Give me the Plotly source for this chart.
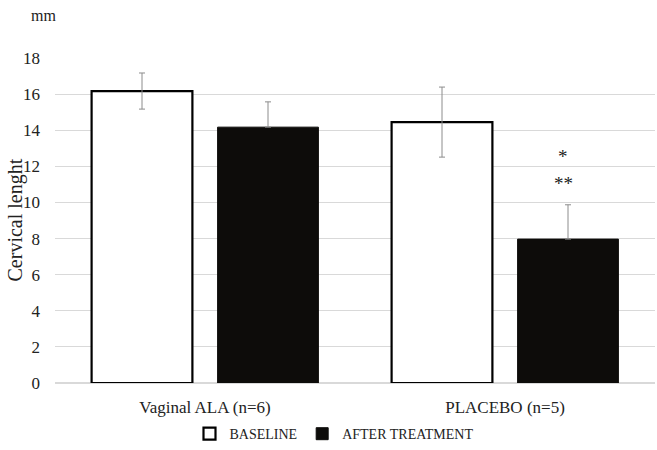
import plotly.graph_objects as go

categories = ["Vaginal ALA (n=6)", "PLACEBO (n=5)"]
baseline = [16.17, 14.45]
baseline_err = [1.0, 1.94]
after = [14.17, 7.97]
after_err = [1.4, 1.9]
after_err_minus = [0, 0]
y_ticks = [0, 2, 4, 6, 8, 10, 12, 14, 16, 18]
star_marks = ["*", "**"]
star_y = [12.57, 11.07]

FONT = "Liberation Serif, Times New Roman, serif"

fig = go.Figure()
fig.add_trace(go.Bar(
    name="BASELINE", x=categories, y=baseline,
    marker=dict(color="white", line=dict(color="black", width=2.2)),
    error_y=dict(type="data", array=baseline_err, color="#8c8c8c", thickness=1, width=3),
))
fig.add_trace(go.Bar(
    name="AFTER TREATMENT", x=categories, y=after,
    marker=dict(color="#0d0c0a", line=dict(color="#0d0c0a", width=1)),
    error_y=dict(type="data", array=after_err, arrayminus=after_err_minus,
                 symmetric=False, color="#8c8c8c", thickness=1, width=3),
))

for s, yv in zip(star_marks, star_y):
    fig.add_annotation(x=categories[1], y=yv, text=s, showarrow=False,
                       xshift=58, font=dict(family=FONT, size=19, color="#222"))

fig.add_annotation(xref="paper", yref="paper", x=-0.02, y=1.0, yshift=43,
                   yanchor="middle", text="mm", showarrow=False, xanchor="center",
                   font=dict(family=FONT, size=16, color="#222"))

fig.add_annotation(xref="paper", yref="paper", x=0, xshift=-40, y=0.5,
                   xanchor="center", yanchor="middle", textangle=-90,
                   text="Cervical lenght", showarrow=False,
                   font=dict(family=FONT, size=20, color="#222"))

fig.update_layout(
    width=657, height=450,
    margin=dict(l=55, r=2, t=58, b=67, autoexpand=False),
    paper_bgcolor="white", plot_bgcolor="white",
    barmode="group", bargap=0.16, bargroupgap=0.2,
    font=dict(family=FONT, size=16, color="#222"),
    legend=dict(orientation="h", x=0.465, xanchor="center", y=-0.108, yanchor="top",
                font=dict(family=FONT, size=14), itemwidth=30, traceorder="normal"),
    showlegend=True,
)
fig.update_yaxes(range=[0, 18], tickvals=y_ticks, showgrid=True, gridcolor="#d9d9d9",
                 gridwidth=1, zeroline=True, zerolinecolor="#d9d9d9", showline=False,
                 ticks="", automargin=False, ticklabelstandoff=14,
                 tickfont=dict(family=FONT, size=17))
fig.update_xaxes(showline=False, ticks="", automargin=False, ticklabelstandoff=12,
                 tickfont=dict(family=FONT, size=17))

fig.write_html("out.html", config={"displayModeBar": False},
               post_script="document.body.style.margin='0';")
